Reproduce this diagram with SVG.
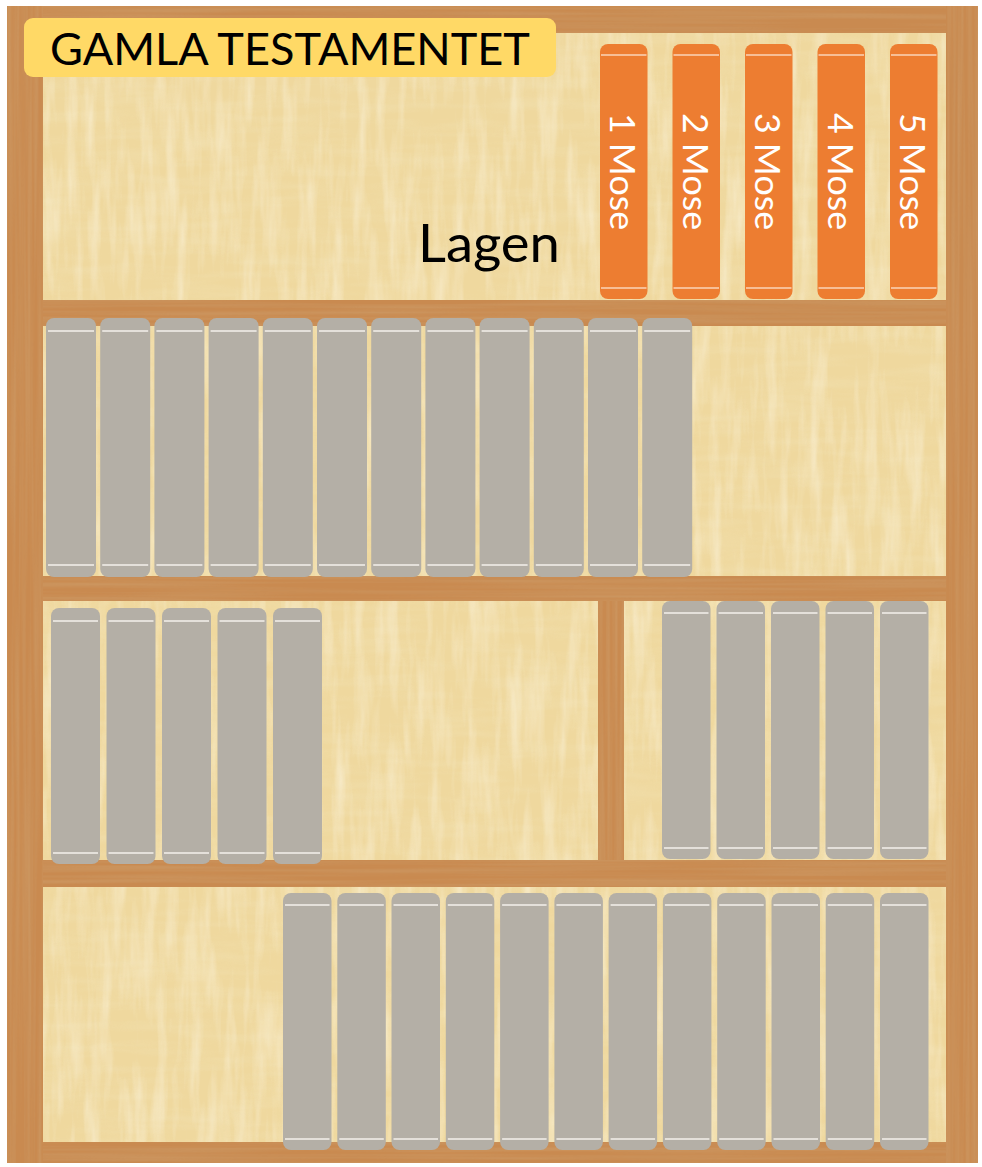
<svg xmlns="http://www.w3.org/2000/svg" xmlns:xlink="http://www.w3.org/1999/xlink" width="982" height="1167" viewBox="0 0 982 1167">
<style>
.wood{fill:#C98A50}
.gb{fill:#B4AFA6}
.ob{fill:#ED7D31}
.gl{stroke:#F4F1EC;stroke-width:1.6}
.ol{stroke:#FAD3B8;stroke-width:1.6}
.ot{font-family:Lato,"Open Sans",sans-serif;font-size:34px;fill:#FFFFFF;text-anchor:middle}
</style>
<defs>
<filter id="papTex" x="0" y="0" width="100%" height="100%">
<feTurbulence type="fractalNoise" baseFrequency="0.012 0.09" numOctaves="3" seed="7"/>
<feColorMatrix type="matrix" values="0 0 0 0 0.88  0 0 0 0 0.74  0 0 0 0 0.42  0 0 0 1.6 -0.6"/>
</filter>
<filter id="papTex2" x="0" y="0" width="100%" height="100%">
<feTurbulence type="fractalNoise" baseFrequency="0.09 0.012" numOctaves="3" seed="11"/>
<feColorMatrix type="matrix" values="0 0 0 0 0.98  0 0 0 0 0.93  0 0 0 0 0.78  0 0 0 1.6 -0.65"/>
</filter>
<filter id="woodH" x="0" y="0" width="100%" height="100%">
<feTurbulence type="fractalNoise" baseFrequency="0.004 0.25" numOctaves="2" seed="3"/>
<feColorMatrix type="matrix" values="0 0 0 0 0.62  0 0 0 0 0.36  0 0 0 0 0.16  0 0 0 1.3 -0.4"/>
</filter>
<filter id="woodV" x="0" y="0" width="100%" height="100%">
<feTurbulence type="fractalNoise" baseFrequency="0.25 0.004" numOctaves="2" seed="5"/>
<feColorMatrix type="matrix" values="0 0 0 0 0.62  0 0 0 0 0.36  0 0 0 0 0.16  0 0 0 1.3 -0.4"/>
</filter>
</defs>

<g id="shelf">
<rect x="7" y="6" width="971" height="1157" class="wood"/>
<rect x="43" y="33" width="903" height="1109" fill="#EFD89E"/>
<rect x="43" y="33" width="903" height="1109" filter="url(#papTex)" opacity="0.7"/>
<rect x="43" y="33" width="903" height="1109" filter="url(#papTex2)" opacity="0.6"/>
<rect x="7" y="6" width="36" height="1157" filter="url(#woodV)" opacity="0.7"/>
<rect x="946" y="6" width="32" height="1157" filter="url(#woodV)" opacity="0.7"/>
<rect x="43" y="6" width="903" height="27" filter="url(#woodH)" opacity="0.7"/>
<rect x="43" y="300" width="903" height="26" class="wood"/>
<rect x="43" y="300" width="903" height="26" filter="url(#woodH)" opacity="0.7"/>
<rect x="43" y="576" width="903" height="25" class="wood"/>
<rect x="43" y="576" width="903" height="25" filter="url(#woodH)" opacity="0.7"/>
<rect x="598" y="601" width="26" height="259" class="wood"/>
<rect x="598" y="601" width="26" height="259" filter="url(#woodV)" opacity="0.7"/>
<rect x="43" y="860" width="903" height="27" class="wood"/>
<rect x="43" y="860" width="903" height="27" filter="url(#woodH)" opacity="0.7"/>
<rect x="43" y="1142" width="903" height="21" class="wood"/>
<rect x="43" y="1142" width="903" height="21" filter="url(#woodH)" opacity="0.7"/>
</g>

<g id="title">
<rect x="24" y="18" width="532" height="59" rx="9" fill="#FFD966"/>
<text x="50" y="65" font-family="Lato,'Open Sans',sans-serif" font-size="45" fill="#000000" textLength="480" lengthAdjust="spacingAndGlyphs">GAMLA TESTAMENTET</text>
</g>

<g id="lagen">
<text x="418" y="262" font-family="Lato,'Open Sans',sans-serif" font-size="52" fill="#000000" textLength="142" lengthAdjust="spacingAndGlyphs">Lagen</text>
</g>

<g id="mose">
<g id="mose1"><rect x="600" y="44" width="47.5" height="255" rx="8" class="ob"/><path class="ol" d="M601 55H646.5M601 288H646.5"/><text class="ot" transform="translate(610,171.5) rotate(90)" textLength="117" lengthAdjust="spacingAndGlyphs">1 Mose</text></g>
<g id="mose2"><rect x="672.5" y="44" width="47.5" height="255" rx="8" class="ob"/><path class="ol" d="M673.5 55H719M673.5 288H719"/><text class="ot" transform="translate(682.5,171.5) rotate(90)" textLength="117" lengthAdjust="spacingAndGlyphs">2 Mose</text></g>
<g id="mose3"><rect x="745" y="44" width="47.5" height="255" rx="8" class="ob"/><path class="ol" d="M746 55H791.5M746 288H791.5"/><text class="ot" transform="translate(755,171.5) rotate(90)" textLength="117" lengthAdjust="spacingAndGlyphs">3 Mose</text></g>
<g id="mose4"><rect x="817.5" y="44" width="47.5" height="255" rx="8" class="ob"/><path class="ol" d="M818.5 55H864M818.5 288H864"/><text class="ot" transform="translate(827.5,171.5) rotate(90)" textLength="117" lengthAdjust="spacingAndGlyphs">4 Mose</text></g>
<g id="mose5"><rect x="890" y="44" width="47.5" height="255" rx="8" class="ob"/><path class="ol" d="M891 55H936.5M891 288H936.5"/><text class="ot" transform="translate(900,171.5) rotate(90)" textLength="117" lengthAdjust="spacingAndGlyphs">5 Mose</text></g>
</g>

<g id="row1">
<g id="r1b1"><rect x="46" y="318" width="50" height="259" rx="8" class="gb"/><path class="gl" d="M48 331H94M48 565H94"/></g>
<g id="r1b2"><rect x="100.2" y="318" width="50" height="259" rx="8" class="gb"/><path class="gl" d="M102.2 331H148.2M102.2 565H148.2"/></g>
<g id="r1b3"><rect x="154.4" y="318" width="50" height="259" rx="8" class="gb"/><path class="gl" d="M156.4 331H202.4M156.4 565H202.4"/></g>
<g id="r1b4"><rect x="208.6" y="318" width="50" height="259" rx="8" class="gb"/><path class="gl" d="M210.6 331H256.6M210.6 565H256.6"/></g>
<g id="r1b5"><rect x="262.8" y="318" width="50" height="259" rx="8" class="gb"/><path class="gl" d="M264.8 331H310.8M264.8 565H310.8"/></g>
<g id="r1b6"><rect x="317" y="318" width="50" height="259" rx="8" class="gb"/><path class="gl" d="M319 331H365M319 565H365"/></g>
<g id="r1b7"><rect x="371.2" y="318" width="50" height="259" rx="8" class="gb"/><path class="gl" d="M373.2 331H419.2M373.2 565H419.2"/></g>
<g id="r1b8"><rect x="425.4" y="318" width="50" height="259" rx="8" class="gb"/><path class="gl" d="M427.4 331H473.4M427.4 565H473.4"/></g>
<g id="r1b9"><rect x="479.6" y="318" width="50" height="259" rx="8" class="gb"/><path class="gl" d="M481.6 331H527.6M481.6 565H527.6"/></g>
<g id="r1b10"><rect x="533.8" y="318" width="50" height="259" rx="8" class="gb"/><path class="gl" d="M535.8 331H581.8M535.8 565H581.8"/></g>
<g id="r1b11"><rect x="588" y="318" width="50" height="259" rx="8" class="gb"/><path class="gl" d="M590 331H636M590 565H636"/></g>
<g id="r1b12"><rect x="642.2" y="318" width="50" height="259" rx="8" class="gb"/><path class="gl" d="M644.2 331H690.2M644.2 565H690.2"/></g>
</g>

<g id="row2left">
<g id="r2b1"><rect x="51" y="608" width="49" height="256" rx="8" class="gb"/><path class="gl" d="M53 621H98M53 853H98"/></g>
<g id="r2b2"><rect x="106.5" y="608" width="49" height="256" rx="8" class="gb"/><path class="gl" d="M108.5 621H153.5M108.5 853H153.5"/></g>
<g id="r2b3"><rect x="162" y="608" width="49" height="256" rx="8" class="gb"/><path class="gl" d="M164 621H209M164 853H209"/></g>
<g id="r2b4"><rect x="217.5" y="608" width="49" height="256" rx="8" class="gb"/><path class="gl" d="M219.5 621H264.5M219.5 853H264.5"/></g>
<g id="r2b5"><rect x="273" y="608" width="49" height="256" rx="8" class="gb"/><path class="gl" d="M275 621H320M275 853H320"/></g>
</g>

<g id="row2right">
<g id="r2b6"><rect x="662" y="601" width="48.5" height="258" rx="8" class="gb"/><path class="gl" d="M664 613H708.5M664 848H708.5"/></g>
<g id="r2b7"><rect x="716.5" y="601" width="48.5" height="258" rx="8" class="gb"/><path class="gl" d="M718.5 613H763M718.5 848H763"/></g>
<g id="r2b8"><rect x="771" y="601" width="48.5" height="258" rx="8" class="gb"/><path class="gl" d="M773 613H817.5M773 848H817.5"/></g>
<g id="r2b9"><rect x="825.5" y="601" width="48.5" height="258" rx="8" class="gb"/><path class="gl" d="M827.5 613H872M827.5 848H872"/></g>
<g id="r2b10"><rect x="880" y="601" width="48.5" height="258" rx="8" class="gb"/><path class="gl" d="M882 613H926.5M882 848H926.5"/></g>
</g>

<g id="row3">
<g id="r3b1"><rect x="283" y="893" width="48.5" height="257" rx="8" class="gb"/><path class="gl" d="M285 905H329.5M285 1139H329.5"/></g>
<g id="r3b2"><rect x="337.3" y="893" width="48.5" height="257" rx="8" class="gb"/><path class="gl" d="M339.3 905H383.8M339.3 1139H383.8"/></g>
<g id="r3b3"><rect x="391.5" y="893" width="48.5" height="257" rx="8" class="gb"/><path class="gl" d="M393.5 905H438M393.5 1139H438"/></g>
<g id="r3b4"><rect x="445.8" y="893" width="48.5" height="257" rx="8" class="gb"/><path class="gl" d="M447.8 905H492.3M447.8 1139H492.3"/></g>
<g id="r3b5"><rect x="500.1" y="893" width="48.5" height="257" rx="8" class="gb"/><path class="gl" d="M502.1 905H546.6M502.1 1139H546.6"/></g>
<g id="r3b6"><rect x="554.4" y="893" width="48.5" height="257" rx="8" class="gb"/><path class="gl" d="M556.4 905H600.9M556.4 1139H600.9"/></g>
<g id="r3b7"><rect x="608.6" y="893" width="48.5" height="257" rx="8" class="gb"/><path class="gl" d="M610.6 905H655.1M610.6 1139H655.1"/></g>
<g id="r3b8"><rect x="662.9" y="893" width="48.5" height="257" rx="8" class="gb"/><path class="gl" d="M664.9 905H709.4M664.9 1139H709.4"/></g>
<g id="r3b9"><rect x="717.2" y="893" width="48.5" height="257" rx="8" class="gb"/><path class="gl" d="M719.2 905H763.7M719.2 1139H763.7"/></g>
<g id="r3b10"><rect x="771.5" y="893" width="48.5" height="257" rx="8" class="gb"/><path class="gl" d="M773.5 905H818M773.5 1139H818"/></g>
<g id="r3b11"><rect x="825.7" y="893" width="48.5" height="257" rx="8" class="gb"/><path class="gl" d="M827.7 905H872.2M827.7 1139H872.2"/></g>
<g id="r3b12"><rect x="880" y="893" width="48.5" height="257" rx="8" class="gb"/><path class="gl" d="M882 905H926.5M882 1139H926.5"/></g>
</g>
</svg>
